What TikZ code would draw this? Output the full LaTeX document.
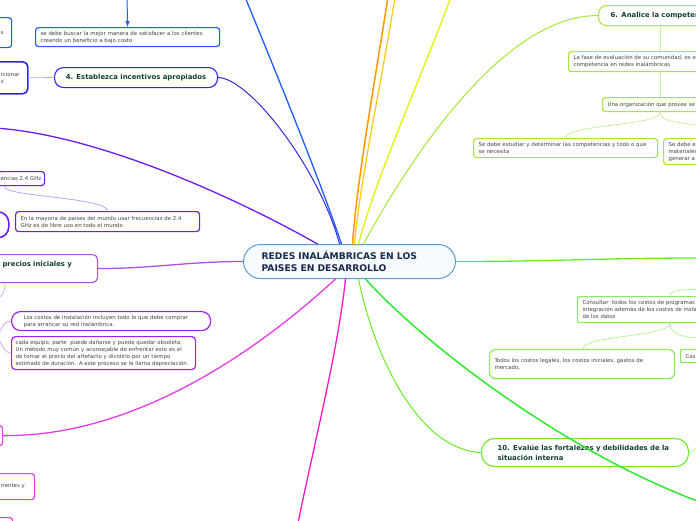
\documentclass[tikz,border=0pt]{standalone}
\usepackage{fontspec}
\setmainfont{DejaVu Sans}
\definecolor{centroborde}{HTML}{5A9BD5}
\definecolor{centrofondo}{HTML}{F7FBFF}
\definecolor{azulnoche}{HTML}{1B2A4C}
\definecolor{textogris}{HTML}{444444}
\definecolor{textoverde}{HTML}{123F35}
\definecolor{azul}{HTML}{1F5CFF}
\definecolor{azulosc}{HTML}{2B2BE0}
\definecolor{azulclaro}{HTML}{AAB6FF}
\definecolor{violeta}{HTML}{6A1CFF}
\definecolor{lavanda}{HTML}{B7A3FF}
\definecolor{purpura}{HTML}{B04DF0}
\definecolor{morado}{HTML}{A020F0}
\definecolor{lila}{HTML}{D9A8F5}
\definecolor{magenta}{HTML}{E83BE8}
\definecolor{rosa}{HTML}{FF17C4}
\definecolor{naranja}{HTML}{FF9900}
\definecolor{oro}{HTML}{FFCC11}
\definecolor{amarillo}{HTML}{E1F20A}
\definecolor{lima}{HTML}{A4E836}
\definecolor{limaclaro}{HTML}{C8F09A}
\definecolor{verde}{HTML}{66EE22}
\definecolor{verdefuerte}{HTML}{2EEA2E}
\definecolor{verdeclaro}{HTML}{88EE55}
\definecolor{verdepalido}{HTML}{B5F59A}

\begin{document}
\begin{tikzpicture}[x=1pt,y=-1pt,line cap=round,line join=round,
  caja/.style={draw=#1,line width=1.2pt,rounded corners=3pt,fill=white,anchor=north west,align=left,inner ysep=1pt,font=\fontsize{5.4}{7}\selectfont,text=textogris},
  titulo/.style={draw=#1,line width=1.1pt,rounded corners=9pt,fill=white,anchor=north west,align=left,inner ysep=1pt,font=\bfseries\fontsize{6.9}{9.5}\selectfont,text=textoverde},
  rama/.style={draw=#1,line width=1.3pt},
  enlace/.style={draw=#1,line width=0.8pt}]
  \useasboundingbox (0,0) rectangle (696,520);

  % nodo central
  \node[draw=centroborde,line width=1pt,rounded corners=17pt,fill=centrofondo,anchor=north west,minimum height=34pt,inner xsep=18pt,text width=176pt,align=left,font=\bfseries\fontsize{9.2}{12}\selectfont,text=azulnoche] (centro) at (243,244) {REDES INALÁMBRICAS EN LOS\\PAISES EN DESARROLLO};

  % izquierda, azules
  \node[caja=azul,minimum height=19pt,inner xsep=5pt,text width=174pt] (buscar) at (35,27) {se debe buscar la mejor manera de satisfacer a los clientes\\creando un beneficio a bajo costo};
  \node[caja=azul,minimum height=30pt,inner xsep=6pt,text width=5pt] (servicios) at (-6,17) {s};
  \node[titulo=azulosc,minimum width=163pt,minimum height=20pt,align=center] (incentivos) at (54,67) {4. Establezca incentivos apropiados};
  \node[caja=azulosc,line width=1.6pt,rounded corners=5pt,minimum height=32pt,inner xsep=6pt,text width=21pt] (proporcionar) at (-6,61) {rcionar\\s};

  % izquierda, violetas
  \node[caja=violeta,minimum height=14pt,inner xsep=3pt,text width=41pt] (ghz) at (-3,171) {\mbox{encias 2.4 GHz}};
  \node[caja=violeta,minimum height=20pt,inner xsep=5pt,text width=174pt] (mayoria) at (15,211) {En la mayoria de países del mundo usar frecuencias de 2.4\\GHz es de libre uso en todo el mundo};
  \node[caja=violeta,line width=1.6pt,rounded corners=11pt,minimum width=40pt,minimum height=26pt] (libre) at (-32,211) {};

  % izquierda, purpuras
  \node[titulo=purpura,rounded corners=5pt,minimum height=28pt,inner xsep=8pt,text width=87pt] (precios) at (-6,254) {precios iniciales y\\\mbox{}};
  \node[caja=morado,rounded corners=9pt,minimum height=19pt,inner xsep=12pt,text width=175pt] (instalacion) at (11,311) {Los costos de instalación incluyen todo lo que debe comprar\\para arrancar su red inalámbrica.};
  \node[caja=morado,rounded corners=4pt,minimum height=33pt,inner xsep=4pt,text width=176pt] (depreciacion) at (11,336) {cada equipo, parte\ \ puede dañarse y puede quedar obsoleta,\\Un método muy común y aconsejable de enfrentar esto es el\\de tomar el precio del artefacto y dividirlo por un tiempo\\estimado de duración. A este proceso se le llama depreciación.};

  % izquierda, magentas
  \node[caja=magenta,minimum height=20pt,minimum width=40pt] (gastos) at (-38,425) {};
  \node[caja=magenta,minimum height=26pt,inner xsep=6pt,text width=28pt] (recurrentes) at (-6,473) {rrentes y};
  \node[caja=magenta,minimum height=20pt,minimum width=40pt] (ultimo) at (-28,517) {};

  % derecha, competencia
  \node[titulo=lima,rounded corners=8pt,minimum height=20pt,inner xsep=12pt,text width=150pt] (competencia) at (598,5) {6. Analice la competencia};
  \node[caja=lima,minimum height=20pt,inner xsep=5pt,text width=190pt] (fase) at (568,51) {La fase de evaluación de su comunidad, es e\\competencia en redes inalámbricas};
  \node[caja=lima,minimum height=14pt,inner xsep=5pt,text width=150pt] (organizacion) at (602,97) {Una organización que provee se};
  \node[caja=lima,minimum height=19pt,inner xsep=5pt,text width=174pt] (estudiar) at (473,138) {Se debe estudiar y determinar las competencias y todo o que\\se necesita};
  \node[caja=lima,minimum height=26pt,inner xsep=5pt,text width=80pt] (materiales) at (663,138) {Se debe e\\materiales\\generar a};

  % derecha, costos y situacion interna
  \node[caja=verdeclaro,rounded corners=1pt,minimum height=26pt,inner xsep=5pt,text width=160pt] (consultar) at (577,296) {Consultar\ \ todos los costos de programac\\integración además de los costos de insta\\de los datos};
  \node[caja=verdeclaro,rounded corners=6pt,minimum height=29pt,inner xsep=5pt,text width=175pt] (legales) at (489,349) {Todos los costos legales, los costos iniciales, gastos de\\mercado,};
  \node[caja=verdeclaro,rounded corners=1pt,minimum height=13pt,inner xsep=5pt,text width=60pt] (cos) at (680,349) {Cos};
  \node[titulo=verde,rounded corners=13pt,minimum height=28pt,inner xsep=16pt,text width=175pt] (evalue) at (481,438) {10. Evalúe las fortalezas y debilidades de la\\situación interna};

  % extremos fuera del dibujo
  \coordinate (arribaAzul) at (245,-3);
  \coordinate (arribaFlecha) at (127,-3);
  \coordinate (izqVioleta) at (-5,128);
  \coordinate (arribaNaranja) at (388,-3);
  \coordinate (arribaOro) at (395,-3);
  \coordinate (arribaAmarillo) at (451,-3);
  \coordinate (derechaVerde) at (700,258);
  \coordinate (abajoVerde) at (700,502);
  \coordinate (abajoRosa) at (298,523);
  \coordinate (izqMorado) at (-8,336);
  \coordinate (izqPrecios) at (-4,300);
  \coordinate (derechaLima) at (710,128);
  \coordinate (derechaConsultar) at (705,289);
  \coordinate (derechaCos) at (705,338);
  \coordinate (derechaEvalue) at (705,446);

  % ramas principales
  \draw[rama=azul] (arribaAzul) .. controls (275,70) and (320,180) .. ([xshift=-8pt]centro.north);
  \draw[rama=azulosc,line width=1pt] (incentivos.east) .. controls (250,78) and (320,170) .. ([xshift=-10pt]centro.north);
  \draw[rama=violeta] (izqVioleta) .. controls (100,135) and (240,200) .. ([xshift=-32pt]centro.north);
  \draw[rama=naranja,line width=1.5pt] (arribaNaranja) .. controls (375,80) and (357,180) .. ([xshift=3pt]centro.north);
  \draw[rama=oro] (arribaOro) .. controls (382,80) and (360,180) .. ([xshift=5pt]centro.north);
  \draw[rama=amarillo] (arribaAmarillo) .. controls (420,80) and (375,180) .. ([xshift=9pt]centro.north);
  \draw[rama=lima,line width=1pt] ([xshift=14pt]centro.north) .. controls (420,140) and (510,15) .. (competencia.west);
  \draw[rama=verde] (centro.east) to[out=0,in=180] (derechaVerde);
  \draw[rama=verdefuerte,line width=1.5pt] ([xshift=16pt]centro.south) .. controls (420,340) and (560,450) .. (abajoVerde);
  \draw[rama=verde,line width=1pt] ([xshift=9pt]centro.south) .. controls (375,360) and (420,450) .. (evalue.west);
  \draw[rama=rosa] ([xshift=-4pt]centro.south) .. controls (338,350) and (315,440) .. (abajoRosa);
  \draw[rama=magenta] (gastos.east) .. controls (150,437) and (280,330) .. ([xshift=-14pt]centro.south);
  \draw[rama=purpura] (precios.east) to[out=0,in=180] (centro.west);

  % enlaces de izquierda
  \draw[azul,line width=1pt,-latex] (arribaFlecha) -- (buscar.north);
  \draw[enlace=azulclaro] (proporcionar.east) -- (incentivos.west);
  \draw[enlace=lavanda] ([xshift=-41pt]ghz.south east) .. controls (3,197) and (107,197) .. (mayoria.north);
  \draw[enlace=lila] ([xshift=11pt]precios.south west) .. controls (5,292) and (4,294) .. (izqPrecios);
  \draw[enlace=lila] (izqMorado) .. controls (3,336) and (0,321) .. (instalacion.west);
  \draw[enlace=lila] (izqMorado) .. controls (3,336) and (0,352) .. (depreciacion.west);

  % enlaces de derecha
  \draw[enlace=limaclaro] ([xshift=62pt]competencia.south west) -- ([xshift=92pt]fase.north west);
  \draw[enlace=limaclaro] ([xshift=92pt]fase.south west) -- ([xshift=58pt]organizacion.north west);
  \draw[enlace=limaclaro] ([xshift=58pt]organizacion.south west) .. controls +(0,14) and +(0,-14) .. (estudiar.north);
  \draw[enlace=limaclaro] ([xshift=58pt]organizacion.south west) .. controls +(0,12) and (690,122) .. (derechaLima);
  \draw[enlace=verdepalido] (derechaConsultar) .. controls (680,290) and (670,290) .. ([xshift=93pt]consultar.north west);
  \draw[enlace=verdepalido] ([xshift=93pt]consultar.south west) .. controls +(0,14) and +(0,-14) .. ([xshift=94pt]legales.north west);
  \draw[enlace=verdepalido] ([xshift=93pt]consultar.south west) .. controls +(0,12) and (685,338) .. (derechaCos);
  \draw[enlace=verdepalido] (evalue.east) .. controls (694,452) and (694,447) .. (derechaEvalue);
\end{tikzpicture}
\end{document}
